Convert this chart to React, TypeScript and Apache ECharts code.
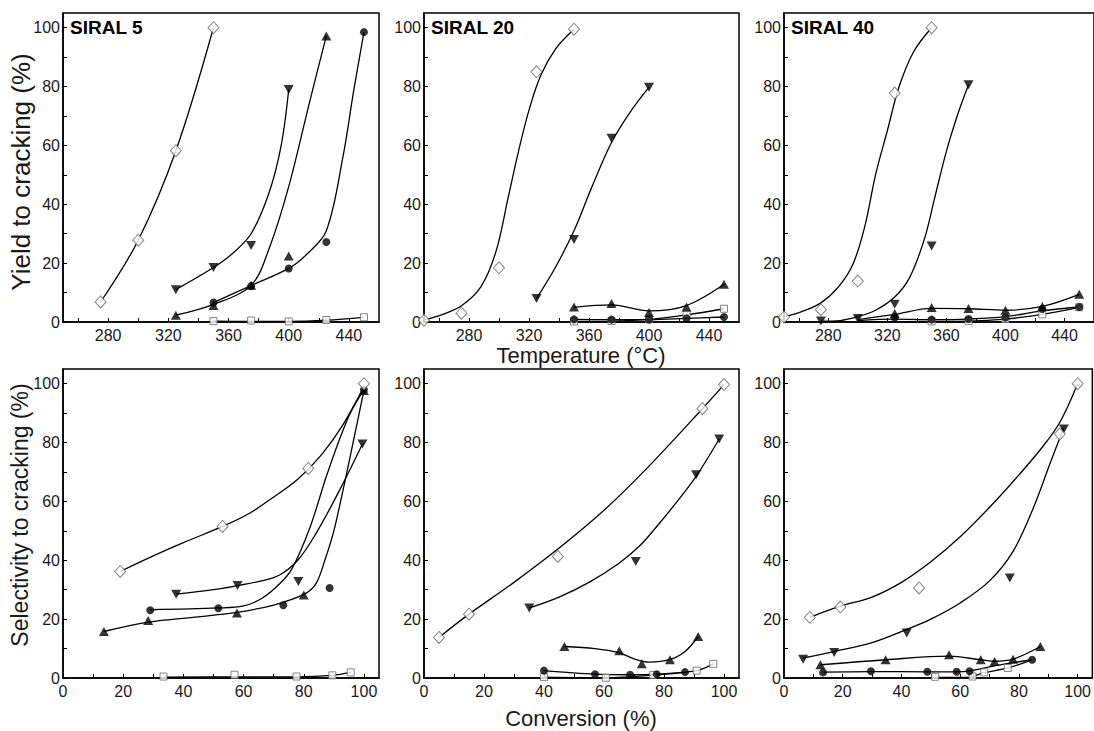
import React, { useEffect, useRef } from "react";
import * as echarts from "echarts";

type P = [number, number][];

// ---------- tick definitions ----------
const tempLabels = [280, 320, 360, 400, 440];
const tempTicks = [260, 280, 300, 320, 340, 360, 380, 400, 420, 440];
const convLabels = [0, 20, 40, 60, 80, 100];
const convTicks = [0, 10, 20, 30, 40, 50, 60, 70, 80, 90, 100];
const pctLabels = [0, 20, 40, 60, 80, 100];
const pctTicks = [0, 10, 20, 30, 40, 50, 60, 70, 80, 90, 100];

const panelTitles = ["SIRAL 5", "SIRAL 20", "SIRAL 40"];

// ---------- SIRAL 5 : yield vs temperature ----------
const y5Diamond: P = [[275, 6.8], [300, 27.8], [325, 58.2], [350, 100]];
const y5DiamondFit: P = [[275, 6.8], [300, 27.8], [325, 58.2], [350, 100]];
const y5Down: P = [[325, 11], [350, 18.5], [375, 26], [400, 79]];
const y5DownFit: P = [[325, 11], [350, 18.5], [362, 23], [375, 30], [387, 44], [395, 60], [400, 79]];
const y5Up: P = [[325, 2.3], [350, 5.6], [375, 12.5], [400, 22.4], [425, 97.2]];
const y5UpFit: P = [[325, 2.3], [350, 6], [375, 12.5], [387, 25], [400, 46], [414, 75], [425, 97.2]];
const y5Circle: P = [[350, 6.6], [375, 12.2], [400, 18.2], [425, 27.2], [450, 98.5]];
const y5CircleFit: P = [[350, 6.6], [375, 12.4], [400, 18.2], [412, 23], [425, 31], [436, 56], [443, 78], [450, 98.5]];
const y5Square: P = [[350, 0.3], [375, 0.5], [400, 0.2], [425, 0.7], [450, 1.6]];
const y5SquareFit: P = [[350, 0.3], [375, 0.2], [400, 0.2], [425, 0.6], [450, 1.6]];

// ---------- SIRAL 20 : yield vs temperature ----------
const y20Diamond: P = [[250, 0.6], [275, 3], [300, 18.4], [325, 85], [350, 99.5]];
const y20DiamondFit: P = [[250, 0.6], [262, 2.5], [275, 5.5], [288, 12], [298, 24], [306, 42], [313, 58], [320, 72], [328, 84], [338, 93], [350, 99.5]];
const y20Down: P = [[325, 8], [350, 28], [375, 62.4], [400, 79.8]];
const y20DownFit: P = [[325, 8], [337, 18], [350, 31], [362, 46], [375, 61], [387, 71], [400, 79.8]];
const y20Up: P = [[350, 5.1], [375, 6.3], [400, 3.2], [425, 5.1], [450, 12.8]];
const y20UpFit: P = [[350, 5], [375, 5.8], [400, 3.8], [425, 5.6], [450, 12.8]];
const y20Circle: P = [[350, 0.9], [375, 0.8], [400, 0.8], [425, 1.2], [450, 1.7]];
const y20CircleFit: P = [[350, 0.9], [375, 0.8], [400, 0.8], [425, 1.2], [450, 1.7]];
const y20Square: P = [[350, 0.2], [375, 0.3], [400, 0.9], [425, 2.5], [450, 4.5]];
const y20SquareFit: P = [[350, 0.2], [375, 0.3], [400, 0.9], [425, 2.4], [450, 4.5]];

// ---------- SIRAL 40 : yield vs temperature ----------
const y40Diamond: P = [[250, 1.7], [275, 4.2], [300, 13.9], [325, 77.8], [350, 100]];
const y40DiamondFit: P = [[250, 1.7], [262, 3.5], [275, 6.5], [287, 12], [297, 20], [305, 33], [312, 50], [320, 65], [328, 80], [338, 92], [350, 100]];
const y40Down: P = [[275, 0.3], [300, 1.2], [325, 6], [350, 25.8], [375, 80.6]];
const y40DownFit: P = [[275, 0.3], [288, 0.5], [300, 1.8], [312, 4], [325, 8.5], [335, 15], [345, 28], [352, 42], [360, 58], [368, 71], [375, 80.6]];
const y40Up: P = [[325, 2.9], [350, 4.9], [375, 4.6], [400, 4.0], [425, 5.3], [450, 9.4]];
const y40UpFit: P = [[300, 0.8], [325, 2.6], [350, 4.6], [375, 4.5], [400, 4.0], [425, 5.3], [450, 9.4]];
const y40Circle: P = [[325, 1.5], [350, 0.8], [375, 1.0], [400, 1.5], [425, 4.4], [450, 5.1]];
const y40CircleFit: P = [[300, 0.5], [325, 1.0], [350, 0.8], [375, 1.0], [400, 1.8], [425, 3.8], [450, 5.1]];
const y40Square: P = [[350, 0.2], [375, 0.3], [400, 1.0], [425, 2.6], [450, 5.0]];
const y40SquareFit: P = [[300, 0.1], [350, 0.2], [375, 0.3], [400, 1.0], [425, 2.6], [450, 5.0]];

// ---------- SIRAL 5 : selectivity vs conversion ----------
const c5Diamond: P = [[19, 36.2], [53, 51.5], [81.5, 71.2], [100, 100]];
const c5DiamondFit: P = [[19, 36.2], [30, 41.5], [40, 46], [53, 51.5], [62, 56], [70, 61.5], [78, 67.5], [86, 76], [93, 86], [100, 99]];
const c5Down: P = [[37.6, 28.5], [58, 31.4], [78.2, 32.8], [99.5, 79.5]];
const c5DownFit: P = [[37.6, 28.5], [50, 30], [58, 31.4], [66, 33], [72, 35], [78, 40], [84, 49], [92, 64], [99.5, 79.5]];
const c5Up: P = [[13.6, 15.8], [28.3, 19.5], [57.8, 22.1], [80, 28.2], [100, 97.7]];
const c5UpFit: P = [[13.6, 15.8], [28.3, 19], [45, 20.8], [57.8, 22.3], [70, 24.8], [80, 28.4], [84, 32], [87, 40], [90, 50], [93.5, 66], [97, 83], [100, 97.7]];
const c5Circle: P = [[29, 23], [51.6, 23.7], [73.2, 24.7], [88.6, 30.6], [100, 98]];
const c5CircleFit: P = [[29, 23.2], [51.6, 23.8], [60, 24.5], [66, 27], [72, 32], [76, 37], [82, 51], [88, 70], [95, 89], [100, 98]];
const c5Square: P = [[33.4, 0.5], [57, 1.1], [77.6, 0.5], [89.5, 0.9], [95.6, 1.9]];
const c5SquareFit: P = [[33.4, 0.3], [57, 0.4], [77.6, 0.4], [89.5, 0.9], [95.6, 1.9]];

// ---------- SIRAL 20 : selectivity vs conversion ----------
const c20Diamond: P = [[5, 13.8], [15, 21.7], [44.6, 41.3], [92.8, 91.5], [100, 99.7]];
const c20DiamondFit: P = [[5, 13.8], [15, 21.7], [30, 32.5], [44.6, 43.8], [60, 57], [75, 72], [92.8, 91.5], [100, 99.7]];
const c20Down: P = [[35.1, 23.8], [70.6, 39.6], [90.7, 69.1], [98.4, 81.2]];
const c20DownFit: P = [[35.1, 23.8], [45, 27.5], [55, 32.5], [65, 39], [72, 45], [78, 52], [84, 59.5], [90.7, 68.5], [98.4, 81.2]];
const c20Up: P = [[46.8, 10.7], [65.1, 9.3], [72.6, 4.8], [82, 6.2], [91.4, 14.1]];
const c20UpFit: P = [[46.8, 10.7], [57, 10], [65, 8.6], [70, 6.5], [75, 5.4], [82, 6.3], [87, 9], [91.4, 14.1]];
const c20Circle: P = [[40, 2.5], [57, 1.3], [68.7, 1.1], [77.6, 1.3], [87, 2.0]];
const c20CircleFit: P = [[40, 2.5], [57, 1.3], [68.7, 1.1], [77.6, 1.3], [87, 2.0]];
const c20Square: P = [[40, 0.3], [60.6, 0.1], [76.4, 1.0], [90.9, 2.5], [96.4, 4.8]];
const c20SquareFit: P = [[40, 0.3], [60.6, 0.1], [76.4, 1.0], [90.9, 2.5], [96.4, 4.8]];

// ---------- SIRAL 40 : selectivity vs conversion ----------
const c40Diamond: P = [[8.8, 20.6], [19.2, 24.1], [46, 30.6], [93.9, 82.9], [100, 100]];
const c40DiamondFit: P = [[8.8, 20.6], [19.2, 24.4], [30, 27.5], [40, 32.5], [50, 39.5], [60, 48], [70, 58], [80, 69], [88, 78.5], [94, 87], [100, 100]];
const c40Down: P = [[6.5, 6.4], [17.1, 8.7], [41.8, 15.3], [76.9, 34], [95.3, 84.6]];
const c40DownFit: P = [[6.5, 6.8], [17.1, 9], [30, 12], [41.8, 16.5], [50, 20], [60, 25.5], [70, 33], [78, 43], [85, 58], [91, 74], [95.3, 85]];
const c40Up: P = [[12.4, 4.5], [34.6, 6.2], [56.2, 7.9], [67, 6.2], [71.7, 5.6], [78, 6.4], [87.3, 10.7]];
const c40UpFit: P = [[12.4, 4.5], [34.6, 6.2], [56.2, 7.4], [67, 6.2], [71.7, 5.7], [78, 6.4], [87.3, 10.7]];
const c40Circle: P = [[13.3, 1.9], [29.6, 2.3], [48.8, 2.1], [58.8, 2.1], [63.2, 2.3], [84.5, 6.2]];
const c40CircleFit: P = [[13.3, 2.0], [29.6, 2.2], [48.8, 2.1], [58.8, 2.1], [63.2, 2.4], [72, 4.2], [84.5, 6.2]];
const c40Square: P = [[51.5, 0.4], [64.2, 0.5], [68.2, 1.9], [76.2, 3.4]];
const c40SquareFit: P = [[51.5, 0.2], [62, 0.2], [64.2, 0.5], [68.2, 1.8], [76.2, 3.4], [84, 6]];

const FONT = "'Liberation Sans', Arial, Helvetica, sans-serif";

type Kind = "diamond" | "down" | "up" | "circle" | "square";

const markerStyle: Record<Kind, any> = {
  diamond: { symbol: "diamond", symbolSize: [11, 12], itemStyle: { color: "#fff", borderColor: "#666", borderWidth: 1 } },
  down: { symbol: "triangle", symbolRotate: 180, symbolSize: [10, 9], itemStyle: { color: "#000" } },
  up: { symbol: "triangle", symbolSize: [10, 9], itemStyle: { color: "#000" } },
  circle: { symbol: "circle", symbolSize: 8, itemStyle: { color: "#000" } },
  square: { symbol: "rect", symbolSize: 7, itemStyle: { color: "#fff", borderColor: "#666", borderWidth: 1 } },
};

type Set = { kind: Kind; pts: P; fit: P };

const panels: Set[][] = [
  [
    { kind: "square", pts: y5Square, fit: y5SquareFit },
    { kind: "circle", pts: y5Circle, fit: y5CircleFit },
    { kind: "up", pts: y5Up, fit: y5UpFit },
    { kind: "down", pts: y5Down, fit: y5DownFit },
    { kind: "diamond", pts: y5Diamond, fit: y5DiamondFit },
  ],
  [
    { kind: "square", pts: y20Square, fit: y20SquareFit },
    { kind: "circle", pts: y20Circle, fit: y20CircleFit },
    { kind: "up", pts: y20Up, fit: y20UpFit },
    { kind: "down", pts: y20Down, fit: y20DownFit },
    { kind: "diamond", pts: y20Diamond, fit: y20DiamondFit },
  ],
  [
    { kind: "square", pts: y40Square, fit: y40SquareFit },
    { kind: "circle", pts: y40Circle, fit: y40CircleFit },
    { kind: "up", pts: y40Up, fit: y40UpFit },
    { kind: "down", pts: y40Down, fit: y40DownFit },
    { kind: "diamond", pts: y40Diamond, fit: y40DiamondFit },
  ],
  [
    { kind: "square", pts: c5Square, fit: c5SquareFit },
    { kind: "circle", pts: c5Circle, fit: c5CircleFit },
    { kind: "up", pts: c5Up, fit: c5UpFit },
    { kind: "down", pts: c5Down, fit: c5DownFit },
    { kind: "diamond", pts: c5Diamond, fit: c5DiamondFit },
  ],
  [
    { kind: "square", pts: c20Square, fit: c20SquareFit },
    { kind: "circle", pts: c20Circle, fit: c20CircleFit },
    { kind: "up", pts: c20Up, fit: c20UpFit },
    { kind: "down", pts: c20Down, fit: c20DownFit },
    { kind: "diamond", pts: c20Diamond, fit: c20DiamondFit },
  ],
  [
    { kind: "square", pts: c40Square, fit: c40SquareFit },
    { kind: "circle", pts: c40Circle, fit: c40CircleFit },
    { kind: "up", pts: c40Up, fit: c40UpFit },
    { kind: "down", pts: c40Down, fit: c40DownFit },
    { kind: "diamond", pts: c40Diamond, fit: c40DiamondFit },
  ],
];

const gridBoxes = [
  { left: 63, top: 13, width: 316, height: 309 },
  { left: 424, top: 13, width: 315, height: 309 },
  { left: 784, top: 13, width: 316, height: 309 },
  { left: 63, top: 369, width: 316, height: 309 },
  { left: 424, top: 369, width: 315, height: 309 },
  { left: 784, top: 369, width: 316, height: 309 },
];

function buildOption() {
  const grid = gridBoxes.map((g) => ({
    ...g,
    show: true,
    borderColor: "#000",
    borderWidth: 1.5,
    backgroundColor: "transparent",
    containLabel: false,
  }));

  const axisLine = { show: true, onZero: false, lineStyle: { color: "#000", width: 1.5 } };
  const label = { fontSize: 16, color: "#1a1a1a", fontFamily: FONT };

  const xAxis = gridBoxes.map((_, i) => {
    const top = i < 3;
    return {
      type: "value",
      gridIndex: i,
      min: top ? 250 : 0,
      max: top ? 460 : 105,
      axisLine,
      axisTick: { show: true, inside: true, length: 4, customValues: top ? tempTicks : convTicks, lineStyle: { color: "#000", width: 1 } },
      axisLabel: { ...label, margin: 5, customValues: top ? tempLabels : convLabels },
      splitLine: { show: false },
    };
  });

  const yAxis = gridBoxes.map((_, i) => ({
    type: "value",
    gridIndex: i,
    min: 0,
    max: 105,
    axisLine,
    axisTick: { show: true, inside: true, length: 4, customValues: pctTicks, lineStyle: { color: "#000", width: 1 } },
    axisLabel: { ...label, margin: 3, customValues: pctLabels },
    splitLine: { show: false },
  }));

  const series: any[] = [];
  panels.forEach((sets, gi) => {
    sets.forEach((s) => {
      series.push({
        type: "line",
        xAxisIndex: gi,
        yAxisIndex: gi,
        data: s.fit,
        smooth: 0.35,
        symbol: "none",
        lineStyle: { color: "#000", width: 1.3 },
        z: 2,
        silent: true,
      });
    });
    sets.forEach((s) => {
      series.push({
        type: "scatter",
        xAxisIndex: gi,
        yAxisIndex: gi,
        data: s.pts,
        ...markerStyle[s.kind],
        z: 3,
        silent: true,
      });
    });
  });

  const titleStyle = { fontFamily: FONT, fill: "#1a1a1a", textAlign: "center", textVerticalAlign: "middle", align: "center", verticalAlign: "middle" };

  const graphic: any[] = [
    ...panelTitles.map((t, i) => ({
      type: "text",
      left: gridBoxes[i].left + 7,
      top: 18,
      z: 10,
      style: { text: t, fontSize: 19, fontWeight: "bold", fontFamily: FONT, fill: "#000" },
    })),
    {
      type: "text",
      x: 21,
      y: 172,
      rotation: Math.PI / 2,
      style: { ...titleStyle, text: "Yield to cracking (%)", fontSize: 26 },
    },
    {
      type: "text",
      x: 20,
      y: 515,
      rotation: Math.PI / 2,
      style: { ...titleStyle, text: "Selectivity to cracking (%)", fontSize: 23 },
    },
    {
      type: "text",
      x: 581,
      y: 355,
      style: { ...titleStyle, text: "Temperature (°C)", fontSize: 22 },
    },
    {
      type: "text",
      x: 581,
      y: 718,
      style: { ...titleStyle, text: "Conversion (%)", fontSize: 22 },
    },
  ];

  return {
    animation: false,
    backgroundColor: "#fff",
    grid,
    xAxis,
    yAxis,
    series,
    graphic,
  };
}

export default function App() {
  const ref = useRef<HTMLDivElement>(null);
  useEffect(() => {
    if (!ref.current) return;
    const chart = echarts.init(ref.current, undefined, { renderer: "svg" });
    chart.setOption(buildOption() as any);
    return () => chart.dispose();
  }, []);
  return (
    <div style={{ position: "fixed", left: 0, top: 0, width: 1094, height: 731, overflow: "hidden", background: "#fff" }}>
      <div ref={ref} style={{ width: 1094, height: 731 }} />
    </div>
  );
}
